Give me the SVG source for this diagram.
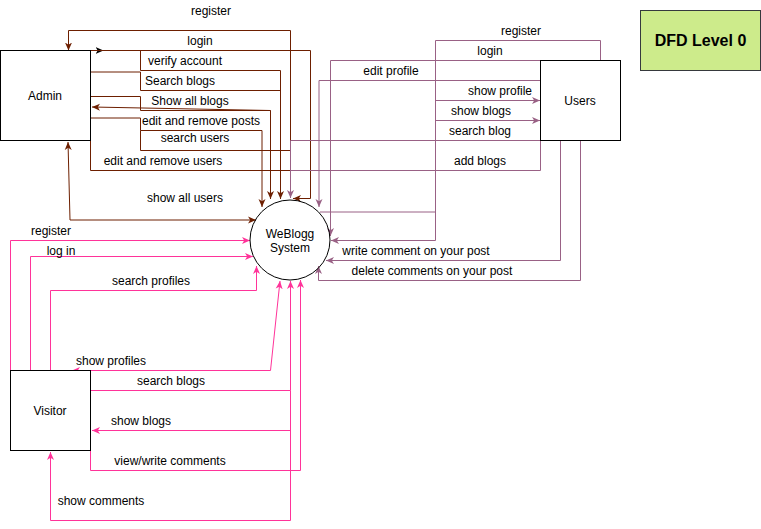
<svg xmlns="http://www.w3.org/2000/svg" width="761" height="529" viewBox="0 0 761 529">
<style>
text{font-family:"Liberation Sans",Arial,Helvetica,sans-serif;font-size:12px;fill:#000;text-anchor:middle}
.node{fill:#fff;stroke:#000;stroke-width:1}
.e{fill:none;stroke-width:1}
.br{stroke:#6d1f00}
.pu{stroke:#996185}
.pk{stroke:#ff3399}
.title{font-size:16px;font-weight:bold}
</style>
<defs>
<marker id="aBr" viewBox="0 0 8 8" refX="8" refY="4" markerWidth="8" markerHeight="8" markerUnits="userSpaceOnUse" orient="auto-start-reverse"><path d="M0,0.5 L8,4 L0,7.5 L2.2,4 Z" fill="#6d1f00"/></marker>
<marker id="aPu" viewBox="0 0 8 8" refX="8" refY="4" markerWidth="8" markerHeight="8" markerUnits="userSpaceOnUse" orient="auto-start-reverse"><path d="M0,0.5 L8,4 L0,7.5 L2.2,4 Z" fill="#996185"/></marker>
<marker id="aPk" viewBox="0 0 8 8" refX="8" refY="4" markerWidth="8" markerHeight="8" markerUnits="userSpaceOnUse" orient="auto-start-reverse"><path d="M0,0.5 L8,4 L0,7.5 L2.2,4 Z" fill="#ff3399"/></marker>
<marker id="aBk" viewBox="0 0 8 8" refX="8" refY="4" markerWidth="8" markerHeight="8" markerUnits="userSpaceOnUse" orient="auto"><path d="M0,0.5 L8,4 L0,7.5 L2.2,4 Z" fill="#000"/></marker>
</defs>
<rect width="761" height="529" fill="#fff"/>

<g id="connectors">
  <!-- Admin side (brown) -->
  <path class="e br" d="M290.5,198 V30.5 H68.5 V50.5" marker-end="url(#aBr)"/>
  <path class="e" stroke="#000" d="M92,50.5 H103.5" marker-end="url(#aBk)"/>
  <path class="e br" d="M90.5,50.5 H310.5 V198.5 H293" marker-end="url(#aBr)"/>
  <path class="e br" d="M140.5,50.5 V70.5 H280.5 V199" marker-end="url(#aBr)"/>
  <path class="e br" d="M90,72 H140.5 V90.5 H280.5 V199"/>
  <path class="e br" d="M90.5,96.5 H140.5 V110.5 H270.5 V199" marker-end="url(#aBr)"/>
  <path class="e br" d="M270.5,110.5 L92,107" marker-end="url(#aBr)"/>
  <path class="e br" d="M90,118 H140.5 V130.5 H262 V207" marker-end="url(#aBr)"/>
  <path class="e br" d="M140.5,130.5 V150.5 H290.5 V198"/>
  <path class="e br" d="M90.5,140.5 V170.5 H290.5"/>
  <path class="e br" d="M68,142 L70,220 H256" marker-start="url(#aBr)" marker-end="url(#aBr)"/>

  <!-- Users side (purple) -->
  <path class="e pu" d="M540.5,140.5 H290.5 V198" marker-end="url(#aPu)"/>
  <path class="e pu" d="M540.5,140.5 V170.5 H290.5"/>
  <path class="e pu" d="M600.5,60.5 V40.5 H435.5 V240.5 H331" marker-end="url(#aPu)"/>
  <path class="e pu" d="M320,212 H435.5"/>
  <path class="e pu" d="M435.5,100.5 H540" marker-end="url(#aPu)"/>
  <path class="e pu" d="M435.5,120.5 H540" marker-end="url(#aPu)"/>
  <path class="e pu" d="M540.5,60.5 H330.5 V236" marker-end="url(#aPu)"/>
  <path class="e pu" d="M540.5,80.5 H319 V207" marker-end="url(#aPu)"/>
  <path class="e pu" d="M560.5,140.5 V260.5 H326" marker-end="url(#aPu)"/>
  <path class="e pu" d="M580.5,140.5 V280.5 H318.5 V266" marker-end="url(#aPu)"/>

  <!-- Visitor side (pink) -->
  <path class="e pk" d="M10.5,370.5 V240.5 H250" marker-end="url(#aPk)"/>
  <path class="e pk" d="M30.5,370.5 V256.5 H253" marker-end="url(#aPk)"/>
  <path class="e pk" d="M50.5,370.5 V290.5 H256.5 V266" marker-end="url(#aPk)"/>
  <path class="e pk" d="M72,370.5 H270.5 L280,281" marker-start="url(#aPk)" marker-end="url(#aPk)"/>
  <path class="e pk" d="M90.5,390.5 H290.5 V281" marker-end="url(#aPk)"/>
  <path class="e pk" d="M290.5,430.5 H92" marker-end="url(#aPk)"/>
  <path class="e pk" d="M90.5,450.5 V470.5 H300.5 V280" marker-end="url(#aPk)"/>
  <path class="e pk" d="M290.5,390.5 V520.5 H50.5 V452" marker-end="url(#aPk)"/>

  <g id="edge-labels">
    <text x="211" y="15">register</text>
    <text x="200" y="45">login</text>
    <text x="185" y="65">verify account</text>
    <text x="180" y="85">Search blogs</text>
    <text x="190" y="105">Show all blogs</text>
    <text x="201" y="125">edit and remove posts</text>
    <text x="195" y="142">search users</text>
    <text x="163" y="165">edit and remove users</text>
    <text x="185" y="202">show all users</text>
    <text x="521" y="35">register</text>
    <text x="490" y="55">login</text>
    <text x="391" y="75">edit profile</text>
    <text x="500" y="95">show profile</text>
    <text x="481" y="115">show blogs</text>
    <text x="480" y="135">search blog</text>
    <text x="480" y="165">add blogs</text>
    <text x="416" y="255">write comment on your post</text>
    <text x="432" y="275">delete comments on your post</text>
    <text x="51" y="235">register</text>
    <text x="61" y="255">log in</text>
    <text x="151" y="285">search profiles</text>
    <text x="111" y="365">show profiles</text>
    <text x="171" y="385">search blogs</text>
    <text x="141" y="425">show blogs</text>
    <text x="170" y="465">view/write comments</text>
    <text x="101" y="505">show comments</text>
  </g>
</g>

<g id="admin">
  <rect class="node" x="0.5" y="50.5" width="90" height="90"/>
  <text x="45" y="100">Admin</text>
</g>
<g id="users">
  <rect class="node" x="540.5" y="60.5" width="80" height="80"/>
  <text x="580" y="105">Users</text>
</g>
<g id="visitor">
  <rect class="node" x="10.5" y="370.5" width="80" height="80"/>
  <text x="50" y="415">Visitor</text>
</g>
<g id="weblogg-system">
  <circle cx="290" cy="240" r="40" fill="none" stroke="#000" stroke-width="1"/>
  <text x="290" y="237.5">WeBlogg</text>
  <text x="290" y="251.5">System</text>
</g>
<g id="title">
  <rect x="640.5" y="10.5" width="120" height="60" fill="#cdeb8b" stroke="#36393d" stroke-width="1"/>
  <text class="title" x="700.5" y="46">DFD Level 0</text>
</g>
</svg>
